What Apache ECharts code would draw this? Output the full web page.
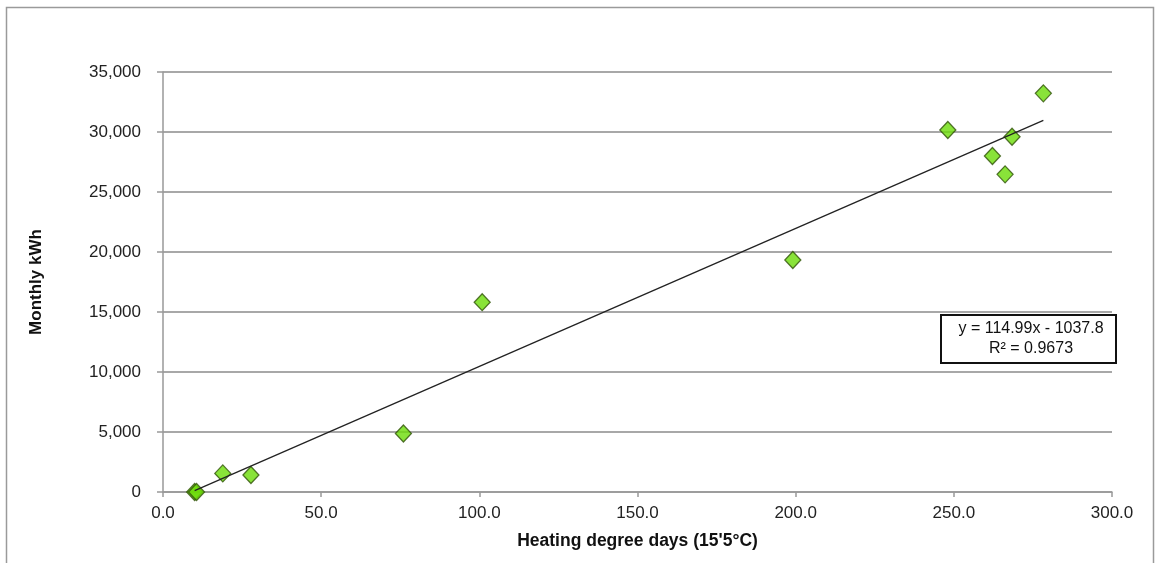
<!DOCTYPE html>
<html>
<head>
<meta charset="utf-8">
<title>Monthly kWh vs heating degree days</title>
<script src="https://cdn.jsdelivr.net/npm/echarts@6/dist/echarts.min.js"></script>
<style>
  html, body { margin: 0; padding: 0; background: #ffffff; }
  #chart { width: 1157px; height: 563px; }
</style>
</head>
<body>
<div id="chart"></div>
<script>
// Heating degree days (x) and monthly electricity use in kWh (y)
const degreeDays = [10.0, 10.6, 18.9, 27.8, 76.0, 100.9, 199.1, 248.1, 262.2, 266.2, 268.4, 278.3];
const monthlyKWh = [0, 0, 1550, 1420, 4880, 15820, 19330, 30170, 28000, 26470, 29600, 33220];

// Linear trendline, as printed in the equation box
const slope = 114.99;
const intercept = -1037.8;
const rSquared = 0.9673;

const yTicks = [0, 5000, 10000, 15000, 20000, 25000, 30000, 35000];
const xTicks = [0, 50, 100, 150, 200, 250, 300];

const points = degreeDays.map((x, i) => [x, monthlyKWh[i]]);
const xMin = Math.min(...degreeDays);
const xMax = Math.max(...degreeDays);
const trend = [xMin, xMax].map(x => [x, slope * x + intercept]);

const labelFont = 'Arial, "Liberation Sans", sans-serif';

const chart = echarts.init(document.getElementById('chart'));
chart.setOption({
  animation: false,
  backgroundColor: '#ffffff',
  grid: { left: 163, right: 45, top: 72, bottom: 71 },
  xAxis: {
    type: 'value',
    min: xTicks[0],
    max: xTicks[xTicks.length - 1],
    interval: 50,
    name: "Heating degree days (15'5\u00b0C)",
    nameLocation: 'middle',
    nameGap: 40,
    nameTextStyle: { fontFamily: labelFont, fontSize: 17.5, fontWeight: 'bold', color: '#111' },
    axisLine: { show: true, lineStyle: { color: '#999', width: 1.5 } },
    axisTick: { show: true, length: 5, lineStyle: { color: '#999', width: 1.5 } },
    axisLabel: {
      margin: 13, fontFamily: labelFont, fontSize: 17, color: '#222',
      formatter: v => v.toFixed(1)
    },
    splitLine: { show: false }
  },
  yAxis: {
    type: 'value',
    min: yTicks[0],
    max: yTicks[yTicks.length - 1],
    interval: 5000,
    name: 'Monthly kWh',
    nameLocation: 'middle',
    nameGap: 118,
    nameRotate: 90,
    nameTextStyle: { fontFamily: labelFont, fontSize: 17, fontWeight: 'bold', color: '#111' },
    axisLine: { show: true, lineStyle: { color: '#999', width: 1.5 } },
    axisTick: { show: true, inside: false, length: 6, lineStyle: { color: '#999', width: 1.5 } },
    axisLabel: {
      margin: 22, fontFamily: labelFont, fontSize: 17, color: '#222',
      formatter: v => v.toLocaleString('en-US')
    },
    splitLine: { show: true, lineStyle: { color: '#a8a8a8', width: 2 } }
  },
  series: [
    {
      name: 'Trendline',
      type: 'line',
      data: trend,
      symbol: 'none',
      lineStyle: { color: '#222', width: 1.3 },
      z: 3
    },
    {
      name: 'Monthly kWh',
      type: 'scatter',
      data: points,
      symbol: 'diamond',
      symbolSize: [16, 17],
      itemStyle: { color: '#6cdc08', borderColor: '#2f5208', borderWidth: 1.3 },
      z: 2
    }
  ],
  graphic: [
    {
      type: 'rect',
      shape: { x: 6.5, y: 7.5, width: 1147, height: 570 },
      style: { fill: 'none', stroke: '#9a9a9a', lineWidth: 1.5 },
      silent: true,
      z: 0
    },
    {
      type: 'group',
      left: 940,
      top: 314,
      z: 10,
      children: [
        {
          type: 'rect',
          shape: { x: 0, y: 0, width: 175, height: 48 },
          style: { fill: '#ffffff', stroke: '#111', lineWidth: 2 }
        },
        {
          type: 'text',
          x: 90, y: 14,
          style: {
            text: 'y = ' + slope.toFixed(2) + 'x - ' + Math.abs(intercept).toFixed(1),
            fontFamily: labelFont, fontSize: 16, fill: '#111',
            align: 'center', verticalAlign: 'middle'
          }
        },
        {
          type: 'text',
          x: 90, y: 34,
          style: {
            text: 'R\u00b2 = ' + rSquared.toFixed(4),
            fontFamily: labelFont, fontSize: 16, fill: '#111',
            align: 'center', verticalAlign: 'middle'
          }
        }
      ]
    }
  ]
});
</script>
</body>
</html>
